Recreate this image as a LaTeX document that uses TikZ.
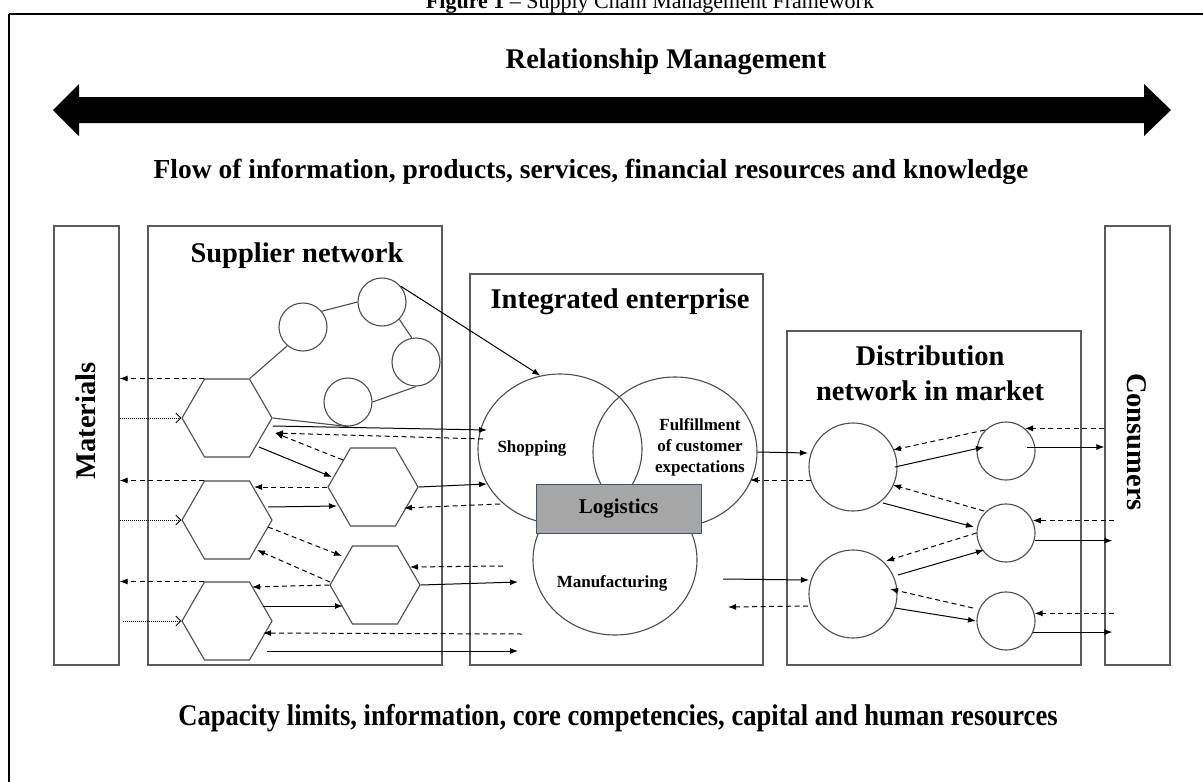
\documentclass[tikz,border=0pt]{standalone}
\usepackage{fontspec}
\setmainfont{Liberation Serif}
\usetikzlibrary{shapes.geometric,arrows.meta,calc}
\definecolor{edgegray}{HTML}{4D4D4D}
\definecolor{boxgray}{HTML}{5A5A5A}
\definecolor{logfill}{HTML}{A6A6A6}
\definecolor{logedge}{HTML}{3F5277}
\begin{document}
\begin{tikzpicture}[x=1pt,y=-1pt,
  box/.style={draw=boxgray,line width=1.1pt,inner sep=0pt,rectangle},
  hexa/.style={draw=edgegray,line width=1.1pt,regular polygon,regular polygon sides=6,minimum size=90pt,inner sep=0pt},
  circ/.style={draw=edgegray,line width=1.1pt,circle,inner sep=0pt},
  bigell/.style={draw=edgegray,line width=1.1pt,ellipse,inner sep=0pt,minimum width=164pt,minimum height=150pt},
  link/.style={draw=edgegray,line width=1.1pt},
  sol/.style={draw=black,line width=1pt,-{Latex[length=8pt,width=6pt]}},
  das/.style={draw=black,line width=1pt,dash pattern=on 5pt off 3.5pt,-{Latex[length=8pt,width=6pt]}},
  dotl/.style={draw=black,line width=0.9pt,dash pattern=on 1pt off 1pt,-{Straight Barb[length=5pt,width=10pt,line width=0.8pt]}},
  head/.style={font=\fontsize{28.5}{35}\selectfont\bfseries,align=center,inner sep=0pt},
  lbl/.style={font=\fontsize{17}{21}\selectfont\bfseries,align=center,inner sep=0pt}
]
\useasboundingbox (0,0) rectangle (1203,782);
\fill[white] (0,0) rectangle (1203,782);

% title and frame
\node[anchor=base,font=\fontsize{22}{24}\selectfont,inner sep=0pt] (title) at (650,8) {\textbf{Figure 1} -- Supply Chain Management Framework};
\draw[line width=2pt] (9,14) -- (1203,14);
\draw[line width=1.2pt] (9,14) -- (9,782);

% relationship management
\node[head] (rm) at (666,62) {Relationship Management};
\fill (53,110) -- (79,84) -- (79,97) -- (1144,97) -- (1144,84) -- (1171,110) -- (1144,136) -- (1144,123) -- (79,123) -- (79,136) -- cycle;
\node[font=\fontsize{27.5}{30}\selectfont\bfseries,inner sep=0pt] (flow) at (591,172) {Flow of information, products, services, financial resources and knowledge};
\node[inner sep=0pt] (cap) at (618,718) {\fontsize{30}{32}\selectfont\bfseries\scalebox{0.886}[1]{Capacity limits, information, core competencies, capital and human resources}};

% boxes
\node[box,minimum width=65pt,minimum height=439pt] (mat) at (86.5,445.5) {};
\node[box,minimum width=294pt,minimum height=439pt] (sup) at (295,445.5) {};
\node[box,minimum width=293pt,minimum height=391pt] (int) at (616.5,469.5) {};
\node[box,minimum width=294pt,minimum height=334pt] (dist) at (934,498) {};
\node[box,minimum width=65pt,minimum height=439pt] (con) at (1137.5,445.5) {};

\node[head,rotate=90] (matlbl) at (86,421) {Materials};
\node[head,rotate=-90] (conlbl) at (1137,442) {Consumers};
\node[head] (suplbl) at (297,256) {Supplier network};
\node[head] (intlbl) at (620,302) {Integrated enterprise};
\node[head] (distlbl) at (930,373) {Distribution\\network in market};

% supplier network shapes
\node[hexa] (h1) at (227,418) {};
\node[hexa] (h2) at (373,487) {};
\node[hexa] (h3) at (227,520) {};
\node[hexa] (h4) at (375,585) {};
\node[hexa] (h5) at (227,621) {};
\node[circ,minimum size=48pt] (c1) at (303,327) {};
\node[circ,minimum size=48pt] (c2) at (382,302) {};
\node[circ,minimum size=48pt] (c3) at (416,362) {};
\node[circ,minimum size=48pt] (c4) at (348,402) {};

% integrated enterprise
\node[bigell] (shop) at (560,449) {};
\node[bigell] (ful) at (675,452) {};
\node[bigell] (man) at (615,560) {};
\node[draw=logedge,fill=logfill,line width=1pt,minimum width=165pt,minimum height=49pt,inner sep=0pt,font=\fontsize{21}{24}\selectfont\bfseries] (log) at (618.5,508.5) {Logistics};
\node[lbl] (shoplbl) at (532,448) {Shopping};
\node[lbl] (fullbl) at (700,447) {Fulfillment\\of customer\\expectations};
\node[lbl] (manlbl) at (612,583) {Manufacturing};

% distribution network
\node[circ,minimum size=88pt] (d1) at (853,467) {};
\node[circ,minimum size=88pt] (d2) at (853,594) {};
\node[circ,minimum size=58pt] (s1) at (1006,451) {};
\node[circ,minimum size=58pt] (s2) at (1006,533) {};
\node[circ,minimum size=58pt] (s3) at (1006,621) {};

% free ends
\coordinate (p1) at (503,566);
\coordinate (p2) at (518,582);
\coordinate (p3) at (522,634);
\coordinate (p4) at (518,651);
\coordinate (p5) at (723,579);
\coordinate (p6) at (728,607);

% supplier links
\draw[link] (h1.60) -- (c1.230);
\draw[link] (c1.40) -- (c2.west);
\draw[link] (c2.-45) -- (c3.100);
\draw[link] (c3.south) -- (c4.east);
\draw[link] (h1.east) -- (c4.south);
\draw[sol] (c2.40) -- (shop.105);

% materials
\draw[das] (h1.120) -- (h1.120 -| mat.east);
\draw[dotl] (h1.west -| mat.east) -- (h1.west);
\draw[das] (h3.120) -- (h3.120 -| mat.east);
\draw[dotl] (h3.west -| mat.east) -- (h3.west);
\draw[das] (h5.120) -- (h5.120 -| mat.east);
\draw[dotl] ($(h5.west -| mat.east)+(3,0)$) -- (h5.west);

% supplier arrows
\draw[sol] ($(h1)+(46,8)$) -- ($(shop)+(-73,-19)$);
\draw[das] ($(shop)+(-77,-10)$) -- ($(h1)+(48,15)$);
\draw[das] ($(h2)+(-30,-27)$) -- ($(h1)+(48,15)$);
\draw[sol] ($(h1)+(32,29)$) -- ($(h2)+(-41,-10)$);
\draw[das] (h2.west) -- ($(h3)+(27,-33)$);
\draw[sol] (h2.east) -- ($(shop)+(-73,35)$);
\draw[das] ($(shop)+(-60,55)$) -- ($(h2)+(31,21)$);
\draw[sol] ($(h3)+(41,-13)$) -- ($(h2)+(-36,19)$);
\draw[das] ($(h3)+(41,7)$) -- ($(h4)+(-33,-29)$);
\draw[das] ($(h4)+(-45,-3)$) -- ($(h3)+(30,30)$);
\draw[das] (h4.west) -- ($(h5)+(25,-34)$);
\draw[sol] ($(h5)+(36,-15)$) -- ($(h4)+(-32,21)$);
\draw[das] (p1) -- ($(h4)+(35,-18)$);
\draw[sol] (h4.east) -- (p2);
\draw[das] (p3) -- ($(h5)+(36,12)$);
\draw[sol] ($(h5)+(40,30)$) -- (p4);

% integrated <-> distribution
\draw[sol] (ful.east) -- ($(d1)+(-45,-14)$);
\draw[das] ($(d1)+(-42,13)$) -- ($(ful)+(75,28)$);
\draw[sol] (p5) -- ($(d2)+(-44,-14)$);
\draw[das] ($(d2)+(-45,12)$) -- (p6);

% distribution internal
\draw[das] ($(s1)+(-21,-21)$) -- ($(d1)+(40,-17)$);
\draw[sol] ($(d1)+(42,0)$) -- ($(s1)+(-22,-4)$);
\draw[das] ($(s2)+(-22,-22)$) -- ($(d1)+(40,18)$);
\draw[sol] ($(d1)+(30,36)$) -- ($(s2)+(-32,-6)$);
\draw[das] (s2.west) -- ($(d2)+(33,-33)$);
\draw[sol] ($(d2)+(45,-19)$) -- ($(s2)+(-22,17)$);
\draw[das] ($(s3)+(-33,-13)$) -- ($(d2)+(37,-5)$);
\draw[sol] ($(d2)+(42,14)$) -- ($(s3)+(-30,0)$);

% consumers
\draw[das] (s1.50 -| con.west) -- (s1.50);
\coordinate (s1o) at ($(s1)+(21,-4)$);
\draw[sol] (s1o) -- (s1o -| con.west);
\draw[das] ($(s2.25 -| con.west)+(10,0)$) -- (s2.25);
\draw[sol] (s2.-15) -- ($(s2.-15 -| con.west)+(8,0)$);
\draw[das] ($(s3.15 -| con.west)+(10,0)$) -- (s3.15);
\draw[sol] (s3.-22) -- ($(s3.-22 -| con.west)+(8,0)$);
\end{tikzpicture}
\end{document}
